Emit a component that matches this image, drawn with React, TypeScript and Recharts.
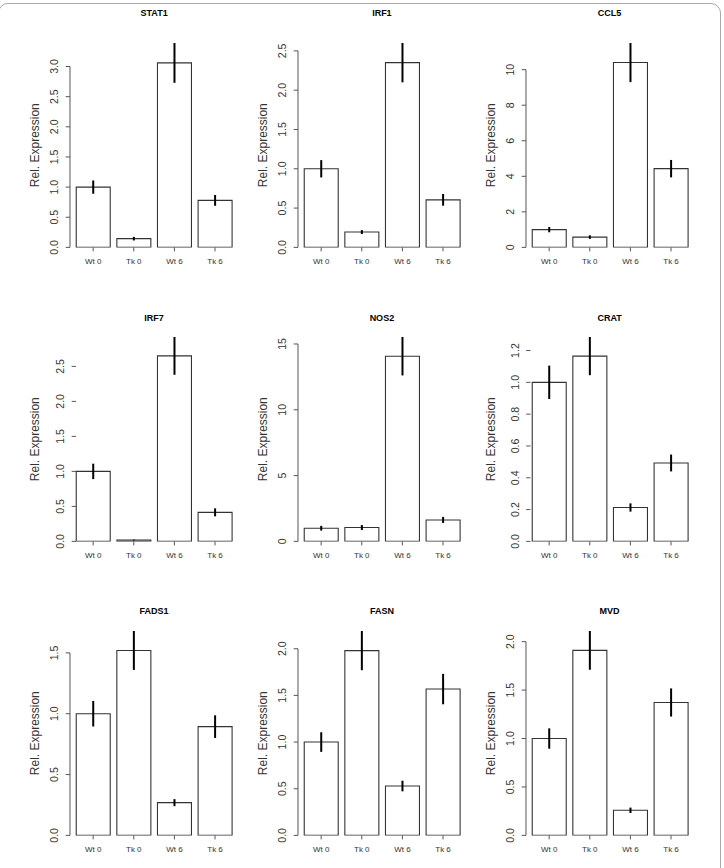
import React from 'react';
import { BarChart, Bar, XAxis, YAxis, ErrorBar, ReferenceLine } from 'recharts';

// Sample groups shared by every gene panel
const GROUPS = ['Wt 0', 'Tk 0', 'Wt 6', 'Tk 6'];

// Relative expression (mean) and standard error per gene, in GROUPS order
const STAT1_MEAN = [1.0, 0.145, 3.06, 0.78];
const STAT1_SE = [0.11, 0.03, 0.33, 0.09];
const STAT1_TICKS = [0, 0.5, 1, 1.5, 2, 2.5, 3];

const IRF1_MEAN = [1.0, 0.195, 2.35, 0.605];
const IRF1_SE = [0.11, 0.025, 0.25, 0.075];
const IRF1_TICKS = [0, 0.5, 1, 1.5, 2, 2.5];

const CCL5_MEAN = [1.0, 0.58, 10.4, 4.43];
const CCL5_SE = [0.15, 0.1, 1.1, 0.49];
const CCL5_TICKS = [0, 2, 4, 6, 8, 10];

const IRF7_MEAN = [1.0, 0.02, 2.65, 0.415];
const IRF7_SE = [0.11, 0.006, 0.27, 0.057];
const IRF7_TICKS = [0, 0.5, 1, 1.5, 2, 2.5];

const NOS2_MEAN = [1.0, 1.05, 14.07, 1.63];
const NOS2_SE = [0.18, 0.19, 1.46, 0.23];
const NOS2_TICKS = [0, 5, 10, 15];

const CRAT_MEAN = [1.0, 1.165, 0.213, 0.493];
const CRAT_SE = [0.105, 0.12, 0.026, 0.053];
const CRAT_TICKS = [0, 0.2, 0.4, 0.6, 0.8, 1.0, 1.2];

const FADS1_MEAN = [1.0, 1.52, 0.269, 0.894];
const FADS1_SE = [0.105, 0.16, 0.029, 0.093];
const FADS1_TICKS = [0, 0.5, 1, 1.5];

const FASN_MEAN = [1.0, 1.98, 0.529, 1.568];
const FASN_SE = [0.105, 0.21, 0.057, 0.163];
const FASN_TICKS = [0, 0.5, 1, 1.5, 2];

const MVD_MEAN = [1.0, 1.91, 0.259, 1.372];
const MVD_SE = [0.105, 0.2, 0.028, 0.145];
const MVD_TICKS = [0, 0.5, 1, 1.5, 2];

// axisShift: how far (px) the value axis sits inside the plot region
const PANELS = [
  { name: 'STAT1', mean: STAT1_MEAN, se: STAT1_SE, ticks: STAT1_TICKS, digits: 1, axisShift: 0 },
  { name: 'IRF1', mean: IRF1_MEAN, se: IRF1_SE, ticks: IRF1_TICKS, digits: 1, axisShift: 0 },
  { name: 'CCL5', mean: CCL5_MEAN, se: CCL5_SE, ticks: CCL5_TICKS, digits: 0, axisShift: 0 },
  { name: 'IRF7', mean: IRF7_MEAN, se: IRF7_SE, ticks: IRF7_TICKS, digits: 1, axisShift: 6 },
  { name: 'NOS2', mean: NOS2_MEAN, se: NOS2_SE, ticks: NOS2_TICKS, digits: 0, axisShift: 0 },
  { name: 'CRAT', mean: CRAT_MEAN, se: CRAT_SE, ticks: CRAT_TICKS, digits: 1, axisShift: 4.5 },
  { name: 'FADS1', mean: FADS1_MEAN, se: FADS1_SE, ticks: FADS1_TICKS, digits: 1, axisShift: 0 },
  { name: 'FASN', mean: FASN_MEAN, se: FASN_SE, ticks: FASN_TICKS, digits: 1, axisShift: 0 },
  { name: 'MVD', mean: MVD_MEAN, se: MVD_SE, ticks: MVD_TICKS, digits: 1, axisShift: 0 },
];

// Layout of the 3 x 3 grid (plot-region origin of each column / row)
const FONT = '"Liberation Sans", Arial, Helvetica, sans-serif';
const PLOT_W = 168.2;
const PLOT_H = 204.4;
const Y_AXIS_W = 60;
const TOP_PAD = 40;
const X_AXIS_H = 30;
const COL_X = [70, 297.8, 525.5];
const ROW_Y = [43.3, 337, 630.7];
const TITLE_Y = [13.3, 318.3, 611];
const AXIS_GREY = '#555';
const TEXT_GREY = '#333';
const Y_TICK_LEN = 4.3;
const Y_TICK_GAP = 7.4;

// Value-axis tick: short tick line plus a label rotated parallel to the axis
function RotatedTick(props: any) {
  const { x, y, payload, digits, shift } = props;
  const axisX = x + Y_TICK_GAP + Y_TICK_LEN + shift;
  const tx = x + shift;
  return (
    <g>
      <line x1={axisX - Y_TICK_LEN} x2={axisX} y1={y} y2={y} stroke={AXIS_GREY} strokeWidth={1} />
      <text
        x={tx}
        y={y}
        transform={`rotate(-90, ${tx}, ${y})`}
        textAnchor="middle"
        fontSize={10.6}
        fontFamily={FONT}
        fill={TEXT_GREY}
      >
        {Number(payload.value).toFixed(digits)}
      </text>
    </g>
  );
}

function YTitle(props: any) {
  const vb = props.viewBox || { x: 0, y: TOP_PAD, width: Y_AXIS_W, height: PLOT_H };
  const x = vb.x + vb.width - 30.7;
  const y = vb.y + vb.height / 2;
  return (
    <text
      x={x}
      y={y}
      transform={`rotate(-90, ${x}, ${y})`}
      textAnchor="middle"
      fontSize={12}
      fontFamily={FONT}
      fill={TEXT_GREY}
    >
      Rel. Expression
    </text>
  );
}

function Panel({ panel, col, row }: any) {
  const data = GROUPS.map((g, i) => ({ group: g, value: panel.mean[i], se: panel.se[i] }));
  const top = Math.max(...data.map((d) => d.value + d.se));
  const lastTick = panel.ticks[panel.ticks.length - 1];
  const originTop = ROW_Y[row] - TOP_PAD;
  return (
    <div style={{ position: 'absolute', left: COL_X[col] - Y_AXIS_W, top: originTop }}>
      <div
        style={{
          position: 'absolute',
          left: Y_AXIS_W,
          width: PLOT_W,
          top: TITLE_Y[row] - originTop - 5,
          height: 10,
          lineHeight: '10px',
          textAlign: 'center',
          fontFamily: FONT,
          fontWeight: 'bold',
          fontSize: 9,
          color: '#000',
        }}
      >
        {panel.name}
      </div>
      <BarChart
        width={Y_AXIS_W + PLOT_W}
        height={TOP_PAD + PLOT_H + X_AXIS_H}
        data={data}
        margin={{ top: TOP_PAD, right: 0, bottom: 0, left: 0 }}
        barCategoryGap="8.333%"
      >
        <XAxis
          dataKey="group"
          axisLine={false}
          tickLine={{ stroke: AXIS_GREY }}
          tickSize={4}
          tickMargin={6.5}
          tick={{ fontSize: 8, fill: TEXT_GREY, fontFamily: FONT }}
          height={X_AXIS_H}
          padding={{ left: 2.85, right: 2.85 }}
          interval={0}
        />
        <XAxis xAxisId="frame" type="number" domain={[0, PLOT_W]} hide allowDataOverflow />
        <YAxis
          type="number"
          domain={[0, top]}
          ticks={panel.ticks}
          width={Y_AXIS_W}
          axisLine={false}
          tickLine={false}
          tickSize={Y_TICK_LEN}
          tickMargin={Y_TICK_GAP}
          tick={<RotatedTick digits={panel.digits} shift={panel.axisShift} />}
          allowDataOverflow
          interval={0}
          label={<YTitle />}
        />
        <ReferenceLine
          xAxisId="frame"
          segment={[
            { x: panel.axisShift, y: 0 },
            { x: panel.axisShift, y: lastTick },
          ]}
          stroke={AXIS_GREY}
          strokeWidth={1}
          ifOverflow="visible"
        />
        <Bar dataKey="value" fill="#fff" stroke="#333" strokeWidth={1.1} isAnimationActive={false}>
          <ErrorBar dataKey="se" width={0} stroke="#000" strokeWidth={2} direction="y" />
        </Bar>
      </BarChart>
    </div>
  );
}

export default function App() {
  return (
    <div
      style={{
        position: 'absolute',
        left: 0,
        top: 0,
        width: 724,
        height: 868,
        overflow: 'hidden',
        background: '#fff',
      }}
    >
      <div
        style={{
          position: 'absolute',
          left: -2,
          top: 3,
          width: 721,
          height: 900,
          border: '1.5px solid #aaa',
          borderRadius: 10,
        }}
      />
      {PANELS.map((p, i) => (
        <Panel key={p.name} panel={p} col={i % 3} row={Math.floor(i / 3)} />
      ))}
    </div>
  );
}
